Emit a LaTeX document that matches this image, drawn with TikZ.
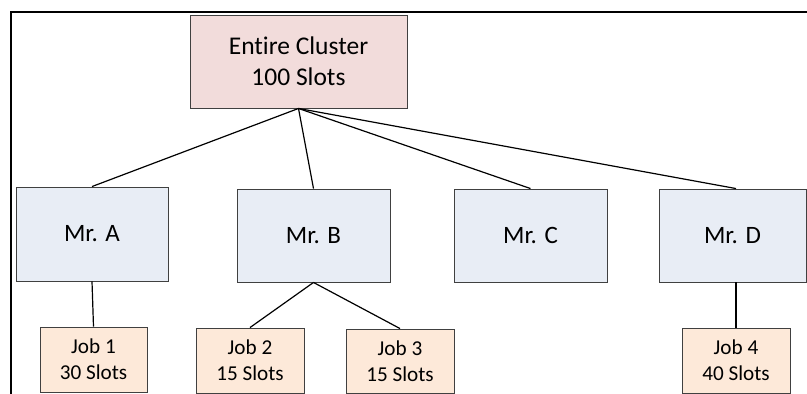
\documentclass[tikz,border=0pt]{standalone}
\usepackage{fontspec}
\setmainfont[Ligatures=NoCommon]{Carlito}
\definecolor{edge}{HTML}{404040}
\definecolor{pinkfill}{HTML}{F2DCDB}
\definecolor{bluefill}{HTML}{E8EDF5}
\definecolor{peachfill}{HTML}{FDE9D9}
\tikzset{
  box/.style={draw=edge, line width=0.9pt, inner sep=0pt, align=center},
  top/.style={box, fill=pinkfill, font=\fontsize{25.5}{31}\selectfont},
  mr/.style={box, fill=bluefill, font=\fontsize{25}{30}\selectfont},
  job/.style={box, fill=peachfill, font=\fontsize{21.2}{26}\selectfont},
  link/.style={draw=black, line width=1.2pt},
  frameline/.style={draw=black, line width=1.4pt}
}
\begin{document}
\begin{tikzpicture}[x=1pt,y=-1pt]
\useasboundingbox (0,0) rectangle (807,394);
\coordinate (f1) at (807,12);
\coordinate (f2) at (11,12);
\coordinate (f3) at (11,394);
\draw[frameline] (f1) -- (f2) -- (f3);
\node[top, minimum width=217pt, minimum height=93pt] (cl) at (298.5,61.5) {Entire Cluster\\100 Slots};
\node[mr, minimum width=152pt, minimum height=94pt] (A) at (92,234) {Mr. A};
\node[mr, minimum width=153pt, minimum height=93pt] (B) at (313.5,235.5) {Mr. B};
\node[mr, minimum width=153pt, minimum height=93pt] (C) at (530.5,235.5) {Mr. C};
\node[mr, minimum width=147pt, minimum height=93pt] (D) at (732.5,235.5) {Mr. D};
\node[job, minimum width=107pt, minimum height=65pt] (J1) at (93.5,359.5) {Job 1\\30 Slots};
\node[job, minimum width=108pt, minimum height=65pt] (J2) at (250,360.5) {Job 2\\15 Slots};
\node[job, minimum width=108pt, minimum height=64pt] (J3) at (400,361) {Job 3\\15 Slots};
\node[job, minimum width=108pt, minimum height=65pt] (J4) at (736,360.5) {Job 4\\40 Slots};
\draw[link] (cl.south) -- (A.north);
\draw[link] (cl.south) -- (B.north);
\draw[link] (cl.south) -- (C.north);
\draw[link] (cl.south) -- (D.north -| J4.north);
\draw[link] (A.south) -- (J1.north);
\draw[link] (B.south) -- (J2.north);
\draw[link] (B.south) -- (J3.north);
\draw[link] (D.south -| J4.north) -- (J4.north);
\end{tikzpicture}
\end{document}
